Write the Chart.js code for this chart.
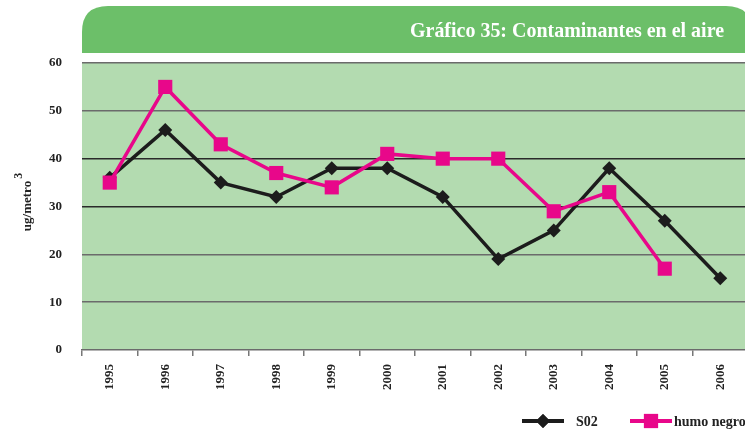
<!DOCTYPE html>
<html>
<head>
<meta charset="utf-8">
<script src="https://cdn.jsdelivr.net/npm/chart.js@4/dist/chart.umd.min.js"></script>
<style>
  html, body { margin: 0; padding: 0; background: #ffffff; overflow: hidden; }
  #wrap { width: 745px; height: 430px; overflow: hidden; }
  canvas { display: block; }
</style>
</head>
<body>
<div id="wrap"><canvas id="chart" width="758" height="430"></canvas></div>
<script>
// Annual concentrations, ug/m3
const years = ['1995','1996','1997','1998','1999','2000','2001','2002','2003','2004','2005','2006'];
const so2 = [36, 46, 35, 32, 38, 38, 32, 19, 25, 38, 27, 15];
const humoNegro = [35, 55, 43, 37, 34, 41, 40, 40, 29, 33, 17, null];
const yTicks = [0, 10, 20, 30, 40, 50, 60];

const titleText = 'Gráfico 35: Contaminantes en el aire';
const serif = '"Liberation Serif", "DejaVu Serif", serif';

const BLACK = '#1c1c1c';
const MAGENTA = '#e8078a';

// Green header banner, plot background, y title and bottom legend
const decor = {
  id: 'decor',
  beforeDraw(chart) {
    const { ctx, chartArea } = chart;
    ctx.save();
    // banner with rounded top corners
    const x0 = 82, y0 = 6, x1 = 752, y1 = 53, r = 26;
    ctx.fillStyle = '#6cbf69';
    ctx.beginPath();
    ctx.moveTo(x0, y1);
    ctx.lineTo(x0, y0 + r);
    ctx.quadraticCurveTo(x0, y0, x0 + r, y0);
    ctx.lineTo(x1 - r, y0);
    ctx.quadraticCurveTo(x1, y0, x1, y0 + r);
    ctx.lineTo(x1, y1);
    ctx.closePath();
    ctx.fill();
    // condensed bold serif title, right aligned
    ctx.fillStyle = '#ffffff';
    ctx.font = 'bold 21px ' + serif;
    ctx.textAlign = 'left';
    ctx.textBaseline = 'alphabetic';
    const tw = ctx.measureText(titleText).width;
    const targetW = 314;
    ctx.translate(724 - targetW, 37);
    ctx.scale(targetW / tw, 1);
    ctx.fillText(titleText, 0, 0);
    ctx.restore();
    ctx.save();
    // plot background
    ctx.fillStyle = '#b3dbb0';
    ctx.fillRect(chartArea.left, chartArea.top, chartArea.right - chartArea.left, chartArea.bottom - chartArea.top);
    ctx.restore();
  },
  afterDraw(chart) {
    const { ctx } = chart;
    ctx.save();
    // y axis title with superscript
    ctx.translate(31, 206);
    ctx.rotate(-Math.PI / 2);
    ctx.fillStyle = '#222';
    ctx.font = 'bold 13px ' + serif;
    ctx.textAlign = 'center';
    ctx.textBaseline = 'alphabetic';
    ctx.fillText('ug/metro', 0, 0);
    const w = ctx.measureText('ug/metro').width;
    ctx.font = 'bold 12px ' + serif;
    ctx.textAlign = 'left';
    ctx.fillText('3', w / 2 + 2, -9);
    ctx.restore();

    // legend
    const items = [
      { label: 'S02', color: BLACK, style: 'rectRot', radius: 7, x: 522, tx: 576 },
      { label: 'humo negro', color: MAGENTA, style: 'rect', radius: 10, x: 630, tx: 674 }
    ];
    const ly = 421;
    ctx.save();
    items.forEach(it => {
      ctx.strokeStyle = it.color;
      ctx.lineWidth = 4;
      ctx.beginPath();
      ctx.moveTo(it.x, ly);
      ctx.lineTo(it.x + 42, ly);
      ctx.stroke();
      ctx.fillStyle = it.color;
      Chart.helpers.drawPoint(ctx, { pointStyle: it.style, radius: it.radius, rotation: 0, borderWidth: 0 }, it.x + 21, ly);
      ctx.fill();
      ctx.fillStyle = '#222';
      ctx.font = 'bold 14px ' + serif;
      ctx.textAlign = 'left';
      ctx.textBaseline = 'middle';
      ctx.fillText(it.label, it.tx, ly + 1);
    });
    ctx.restore();
  }
};

function gridColor(ctx) {
  const v = ctx.tick ? ctx.tick.value : 0;
  if (v === 30 || v === 40) return '#2a2a2a';
  if (v === 0) return 'rgba(0,0,0,0)';
  return '#6b6b6b';
}

new Chart(document.getElementById('chart'), {
  type: 'line',
  data: {
    labels: years,
    datasets: [
      {
        label: 'S02',
        data: so2,
        borderColor: BLACK,
        backgroundColor: BLACK,
        borderWidth: 3.5,
        pointStyle: 'rectRot',
        pointRadius: 7,
        pointHoverRadius: 7,
        pointBorderWidth: 0,
        tension: 0,
        order: 2
      },
      {
        label: 'humo negro',
        data: humoNegro,
        borderColor: MAGENTA,
        backgroundColor: MAGENTA,
        borderWidth: 3.5,
        pointStyle: 'rect',
        pointRadius: 10,
        pointHoverRadius: 10,
        pointBorderWidth: 0,
        tension: 0,
        spanGaps: false,
        order: 1
      }
    ]
  },
  options: {
    responsive: false,
    animation: false,
    layout: { padding: { left: 0, right: 2, top: 63, bottom: 0 } },
    plugins: {
      legend: { display: false },
      title: { display: false },
      tooltip: { enabled: false }
    },
    scales: {
      x: {
        type: 'category',
        offset: true,
        grid: {
          offset: true,
          drawOnChartArea: false,
          drawTicks: true,
          tickLength: 6,
          color: '#777777',
          lineWidth: 1.5
        },
        border: { display: true, color: '#6b6b6b', width: 1.5 },
        ticks: {
          color: '#222',
          font: { family: serif, size: 13, weight: 'bold' },
          minRotation: 90,
          maxRotation: 90,
          padding: 8
        },
        afterFit(scale) { scale.height = 80; }
      },
      y: {
        min: 0,
        max: 60,
        afterBuildTicks(scale) { scale.ticks = yTicks.map(v => ({ value: v })); },
        grid: {
          drawTicks: false,
          color: gridColor,
          lineWidth: 1.5
        },
        border: { display: false },
        ticks: {
          color: '#222',
          font: { family: serif, size: 13, weight: 'bold' },
          padding: 20
        },
        afterFit(scale) { scale.width = 82; }
      }
    }
  },
  plugins: [decor]
});
</script>
</body>
</html>
